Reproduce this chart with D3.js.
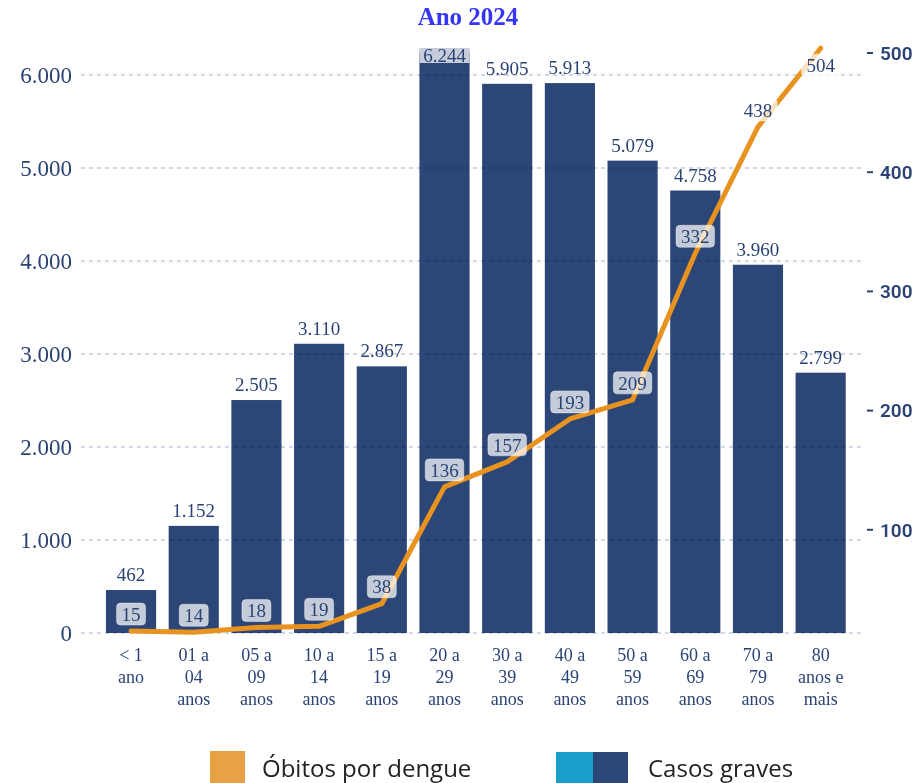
<!DOCTYPE html>
<html>
<head>
<meta charset="utf-8">
<script src="https://cdn.jsdelivr.net/npm/d3@7"></script>
<style>
  body { margin: 0; background: #fff; }
  svg { display: block; }
</style>
</head>
<body>
<div id="container"></div>
<script>
const width = 917,
  height = 783;

// faixas etarias (uma linha por item)
const faixas = [
  ["< 1", "ano"], ["01 a", "04", "anos"], ["05 a", "09", "anos"], ["10 a", "14", "anos"],
  ["15 a", "19", "anos"], ["20 a", "29", "anos"], ["30 a", "39", "anos"], ["40 a", "49", "anos"],
  ["50 a", "59", "anos"], ["60 a", "69", "anos"], ["70 a", "79", "anos"], ["80", "anos e", "mais"]
];
const casosGraves = [462, 1152, 2505, 3110, 2867, 6244, 5905, 5913, 5079, 4758, 3960, 2799];
const obitos = [15, 14, 18, 19, 38, 136, 157, 193, 209, 332, 438, 504];
const leftTicks = [0, 1000, 2000, 3000, 4000, 5000, 6000];
const rightTicks = [100, 200, 300, 400, 500];

const navy = "#2c4677",
  textBlue = "#2b4374",
  orange = "#e8931f",
  fmt = d3.format(",");
const ptNum = v => fmt(v).replace(/,/g, ".");

const svg = d3.select("#container").append("svg")
  .attr("width", width)
  .attr("height", height);

/* SCALES */
const xScale = d3.scaleBand()
  .domain(d3.range(faixas.length))
  .range([99.7, 852])
  .paddingInner(0.2)
  .paddingOuter(0.1);

const yLeft = d3.scaleLinear()
  .domain([0, 6000])
  .range([633, 75]);

const yRight = d3.scaleLinear()
  .domain([0, 500])
  .range([649, 53]);

const cx = i => xScale(i) + xScale.bandwidth() / 2;

/* TITLE */
svg.append("text")
  .attr("x", 468)
  .attr("y", 25)
  .attr("text-anchor", "middle")
  .attr("font-family", "Liberation Serif")
  .attr("font-weight", "bold")
  .attr("font-size", 25)
  .attr("fill", "#3535f5")
  .text("Ano 2024");

/* LEFT AXIS */
const yAxis = d3.axisLeft(yLeft)
  .tickValues(leftTicks)
  .tickSize(0)
  .tickPadding(0)
  .tickFormat(ptNum);

svg.append("g")
  .attr("class", "y-axis")
  .attr("transform", "translate(72,0)")
  .call(yAxis)
  .call(g => g.select(".domain").remove())
  .selectAll("text")
  .attr("font-family", "Liberation Serif")
  .attr("font-size", 23)
  .attr("fill", textBlue);

/* BARS */
svg.selectAll("rect.bar")
  .data(casosGraves)
  .join("rect")
  .attr("class", "bar")
  .attr("x", (d, i) => xScale(i))
  .attr("y", d => yLeft(d))
  .attr("width", xScale.bandwidth())
  .attr("height", d => yLeft(0) - yLeft(d))
  .attr("fill", navy);

/* GRID (por cima das barras) */
svg.append("g")
  .attr("class", "grid")
  .style("mix-blend-mode", "multiply")
  .selectAll("line")
  .data(leftTicks)
  .join("line")
  .attr("x1", 81)
  .attr("x2", 862)
  .attr("y1", d => yLeft(d))
  .attr("y2", d => yLeft(d))
  .attr("stroke", "#a3b1cc")
  .attr("stroke-width", 1.2)
  .attr("stroke-dasharray", "4,4");

// rotulos das barras
const barLabels = svg.selectAll("g.barLabel")
  .data(casosGraves)
  .join("g")
  .attr("class", "barLabel")
  .attr("transform", (d, i) => `translate(${cx(i)},0)`);

barLabels.filter(d => yLeft(d) - 9 < 62)
  .append("rect")
  .attr("x", -xScale.bandwidth() / 2)
  .attr("y", 48)
  .attr("width", xScale.bandwidth())
  .attr("height", 15)
  .attr("fill", "#c6ccda");

barLabels.append("text")
  .attr("y", d => Math.max(yLeft(d) - 9, 62))
  .attr("text-anchor", "middle")
  .attr("font-family", "Liberation Serif")
  .attr("font-size", 19)
  .attr("fill", textBlue)
  .text(d => ptNum(d));

/* X LABELS */
const xLab = svg.selectAll("text.xLabel")
  .data(faixas)
  .join("text")
  .attr("class", "xLabel")
  .attr("text-anchor", "middle")
  .attr("font-family", "Liberation Serif")
  .attr("font-size", 18)
  .attr("fill", textBlue);

xLab.selectAll("tspan")
  .data((d, i) => d.map(t => ({ t, i })))
  .join("tspan")
  .attr("x", d => cx(d.i))
  .attr("y", (d, j) => 661 + j * 22)
  .text(d => d.t);

/* RIGHT AXIS */
const rAxis = svg.append("g")
  .attr("class", "y-axis-right");

rAxis.selectAll("line")
  .data(rightTicks)
  .join("line")
  .attr("x1", 867)
  .attr("x2", 873)
  .attr("y1", d => yRight(d))
  .attr("y2", d => yRight(d))
  .attr("stroke", textBlue)
  .attr("stroke-width", 2);

rAxis.selectAll("text")
  .data(rightTicks)
  .join("text")
  .attr("x", 880)
  .attr("y", d => yRight(d))
  .attr("dy", "0.36em")
  .attr("font-family", "Roboto")
  .attr("font-weight", 600)
  .attr("font-size", 19)
  .attr("fill", textBlue)
  .text(d => d);

/* LINE */
const line = d3.line()
  .x((d, i) => cx(i))
  .y(d => yRight(d));

svg.append("path")
  .datum(obitos)
  .attr("d", line)
  .attr("fill", "none")
  .attr("stroke", orange)
  .attr("stroke-width", 5)
  .attr("stroke-linecap", "round")
  .attr("stroke-linejoin", "round");

// rotulos da linha
const lineLabels = svg.selectAll("g.lineLabel")
  .data(obitos)
  .join("g")
  .attr("class", "lineLabel")
  .attr("transform", (d, i) => {
    const off = i === obitos.length - 1 ? 17 : -17;
    return `translate(${cx(i)},${yRight(d) + off})`;
  });

lineLabels.append("rect")
  .attr("x", d => -(String(d).length * 9.5 + 10) / 2)
  .attr("y", -11)
  .attr("width", d => String(d).length * 9.5 + 10)
  .attr("height", 22)
  .attr("rx", 4)
  .attr("fill", "#fff")
  .attr("fill-opacity", 0.72)
  .attr("stroke", "#fff")
  .attr("stroke-opacity", 0.4);

lineLabels.append("text")
  .attr("text-anchor", "middle")
  .attr("dy", "0.35em")
  .attr("font-family", "Liberation Serif")
  .attr("font-size", 19)
  .attr("fill", textBlue)
  .text(d => d);

/* LEGEND */
const legend = svg.append("g").attr("class", "legend");

legend.append("rect")
  .attr("x", 210).attr("y", 751)
  .attr("width", 35).attr("height", 40)
  .attr("fill", "#e8a243");

legend.append("text")
  .attr("x", 262).attr("y", 777)
  .attr("font-family", "Open Sans")
  .attr("font-size", 24)
  .attr("fill", "#222")
  .text("Óbitos por dengue");

legend.append("rect")
  .attr("x", 556).attr("y", 752)
  .attr("width", 37).attr("height", 40)
  .attr("fill", "#1a9fca");

legend.append("rect")
  .attr("x", 593).attr("y", 752)
  .attr("width", 35).attr("height", 40)
  .attr("fill", navy);

legend.append("text")
  .attr("x", 648).attr("y", 777)
  .attr("font-family", "Open Sans")
  .attr("font-size", 24)
  .attr("fill", "#222")
  .text("Casos graves");
</script>
</body>
</html>
